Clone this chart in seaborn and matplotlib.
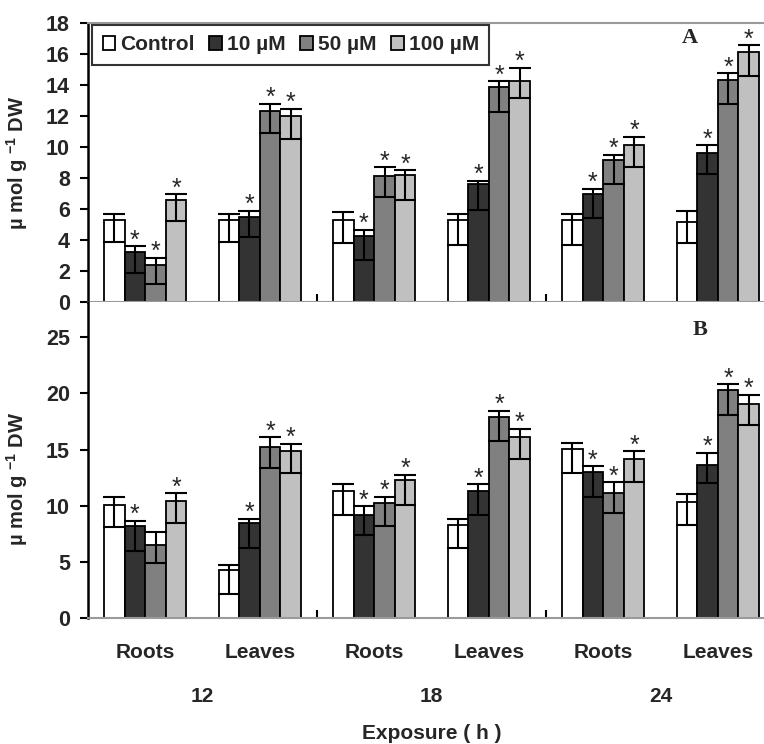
import numpy as np
import pandas as pd
import matplotlib
matplotlib.use("Agg")
import matplotlib.pyplot as plt
import matplotlib.transforms as mtransforms
import seaborn as sns

# groups along the x axis (exposure hour + tissue)
hours = ["12", "18", "24"]
tissues = ["Roots", "Leaves", "Roots", "Leaves", "Roots", "Leaves"]
treatments = ["Control", "10 \u00b5M", "50 \u00b5M", "100 \u00b5M"]
colors = ["#ffffff", "#333333", "#808080", "#c0c0c0"]

# panel A: rows = treatments, cols = groups
a_mean = [[5.3, 5.3, 5.3, 5.3, 5.3, 5.15],
          [3.2, 5.5, 4.25, 7.6, 6.95, 9.6],
          [2.4, 12.3, 8.15, 13.85, 9.15, 14.35],
          [6.55, 12.0, 8.2, 14.25, 10.15, 16.1]]
a_top = [[5.7, 5.7, 5.8, 5.7, 5.7, 5.85],
         [3.6, 5.9, 4.65, 7.8, 7.3, 10.1],
         [2.85, 12.8, 8.7, 14.25, 9.5, 14.75],
         [6.95, 12.45, 8.5, 15.1, 10.65, 16.55]]
a_bot = [[3.9, 3.9, 3.8, 3.7, 3.7, 3.8],
         [1.9, 4.2, 2.7, 5.95, 5.4, 8.25],
         [1.15, 10.9, 6.8, 12.25, 7.6, 12.8],
         [5.25, 10.5, 6.55, 13.15, 8.7, 14.6]]
a_star = [[0, 0, 0, 0, 0, 0],
          [1, 1, 1, 1, 1, 1],
          [1, 1, 1, 1, 1, 1],
          [1, 1, 1, 1, 1, 1]]

# panel B
b_mean = [[10.05, 4.25, 11.3, 8.3, 15.05, 10.3],
          [8.15, 8.5, 9.2, 11.35, 13.0, 13.65],
          [6.5, 15.2, 10.25, 17.9, 11.15, 20.3],
          [10.4, 14.85, 12.25, 16.1, 14.15, 19.1]]
b_top = [[10.75, 4.75, 11.9, 8.85, 15.55, 11.0],
         [8.65, 8.85, 9.95, 11.9, 13.5, 14.7],
         [7.65, 16.1, 10.8, 18.45, 12.1, 20.8],
         [11.1, 15.5, 12.75, 16.85, 14.85, 19.9]]
b_bot = [[8.1, 2.15, 9.2, 6.25, 12.9, 8.3],
         [6.0, 6.25, 7.4, 9.2, 10.75, 12.05],
         [4.9, 13.4, 8.15, 15.75, 9.35, 18.05],
         [8.45, 12.9, 10.05, 14.15, 12.15, 17.15]]
b_star = [[0, 0, 0, 0, 0, 0],
          [1, 1, 1, 1, 1, 1],
          [0, 1, 1, 1, 1, 1],
          [1, 1, 1, 1, 1, 1]]

sns.set_style("white")
plt.rcParams["font.family"] = ["Liberation Sans", "DejaVu Sans"]
plt.rcParams["font.weight"] = "bold"
plt.rcParams["mathtext.default"] = "regular"

W, H = 764, 744
fig = plt.figure(figsize=(W / 100, H / 100), dpi=100)
ax_a = fig.add_axes([88 / W, 1 - 302 / H, 687 / W, 279 / H])
ax_b = fig.add_axes([88 / W, 1 - 618 / H, 687 / W, 316 / H])

groups = [f"{hours[i // 2]} {tissues[i]}" for i in range(6)]


def draw_panel(ax, mean, top, bot, star, ymax, yticks):
    rows = []
    for t, name in enumerate(treatments):
        for g in range(6):
            rows.append({"group": groups[g], "treatment": name, "value": mean[t][g]})
    df = pd.DataFrame(rows)
    sns.barplot(data=df, x="group", y="value", hue="treatment", order=groups,
                hue_order=treatments, palette=colors, edgecolor="black",
                linewidth=1.3, width=0.72, errorbar=None, ax=ax, legend=False)
    bar_sets = list(ax.containers)
    for t, cont in enumerate(bar_sets):
        for g, bar in enumerate(cont.patches):
            x = bar.get_x() + bar.get_width() / 2
            m = mean[t][g]
            ax.errorbar(x, m, yerr=[[m - bot[t][g]], [top[t][g] - m]], fmt="none",
                        ecolor="black", elinewidth=1.5, capsize=8, capthick=1.5)
            if star[t][g]:
                ax.annotate("*", (x, top[t][g]), xytext=(0, -4.5), textcoords="offset points",
                            ha="center", va="bottom", fontsize=18, fontweight="normal")
    ax.set_xlim(-0.5, 5.5)
    ax.set_ylim(0, ymax)
    ax.set_yticks(yticks)
    ax.set_xlabel("")
    ax.set_ylabel("\u00b5 mol g $^{-1}$ DW", fontsize=14.5, fontweight="bold")
    ax.tick_params(axis="y", direction="out", length=6, width=1.5, color="black",
                   labelsize=15.5, pad=7, left=True)
    ax.set_xticks([1.5, 3.5], minor=True)
    ax.tick_params(axis="x", which="minor", direction="in", length=6, width=1.5,
                   color="black", bottom=True)
    ax.tick_params(axis="x", which="major", length=0)
    for lab in ax.get_yticklabels():
        lab.set_fontweight("bold")
    ax.spines["left"].set_color("black")
    ax.spines["left"].set_linewidth(1.8)
    ax.spines["bottom"].set_color("#9a9a9a")
    ax.spines["bottom"].set_linewidth(1.5)
    ax.spines["right"].set_visible(False)
    return bar_sets


bars_a = draw_panel(ax_a, a_mean, a_top, a_bot, a_star, 18, np.arange(0, 19, 2))
draw_panel(ax_b, b_mean, b_top, b_bot, b_star, 316 / 11.23, np.arange(0, 26, 5))

ax_a.set_xticklabels([])
ax_a.spines["top"].set_color("#9a9a9a")
ax_a.spines["top"].set_linewidth(1.5)
ax_b.spines["top"].set_visible(False)
ax_a.yaxis.set_label_coords(-0.084, 0.5)
ax_b.yaxis.set_label_coords(-0.084, 0.44)

handles = [c.patches[0] for c in bars_a]
leg = ax_a.legend(handles, treatments, loc="upper left", bbox_to_anchor=(0.006, 0.993),
                  ncol=4, frameon=True, fancybox=False, edgecolor="black",
                  handlelength=0.6, handleheight=0.6, handletextpad=0.25,
                  columnspacing=0.7, borderpad=0.5, borderaxespad=0,
                  prop={"size": 15, "weight": "bold"})
leg.get_frame().set_linewidth(1.5)

ax_b.set_xticks(range(6))
ax_b.set_xticklabels(tissues, fontsize=15, fontweight="bold")
ax_b.tick_params(axis="x", which="major", pad=18)

trans = mtransforms.blended_transform_factory(ax_b.transData, ax_b.transAxes)
for i, h in enumerate(hours):
    ax_b.text(2 * i + 0.5, -0.25, h, transform=trans, ha="center", va="center",
              fontsize=15, fontweight="bold")
ax_b.text(0.5, -0.364, "Exposure ( h )", transform=ax_b.transAxes, ha="center",
          va="center", fontsize=15, fontweight="bold")

fig.text(690 / W, 1 - 38 / H, "A", family="Liberation Serif", fontsize=16,
         fontweight="bold", ha="center", va="center")
fig.text(700 / W, 1 - 330 / H, "B", family="Liberation Serif", fontsize=16,
         fontweight="bold", ha="center", va="center")

fig.savefig("out.png", dpi=100)
